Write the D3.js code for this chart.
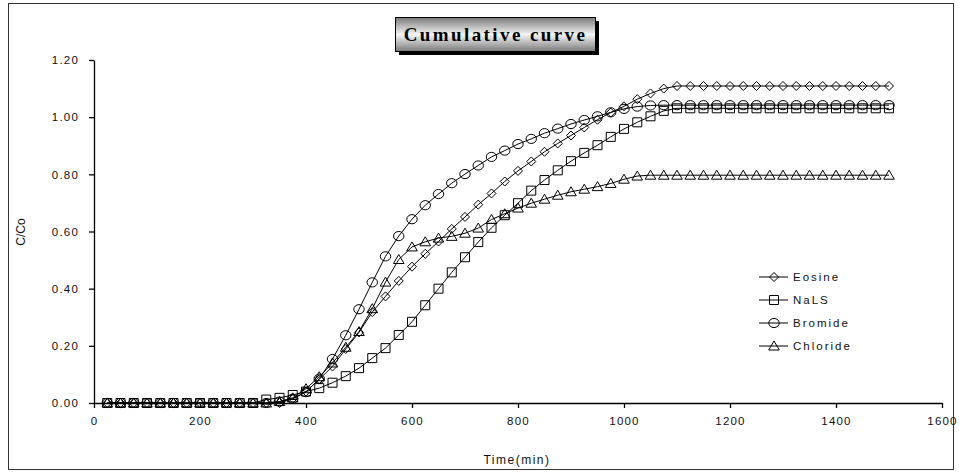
<!DOCTYPE html>
<html>
<head>
<meta charset="utf-8">
<script src="https://cdn.jsdelivr.net/npm/d3@7"></script>
<style>
  body { margin: 0; background: #fff; }
  text { font-family: Arial, "Liberation Sans", sans-serif; }
</style>
</head>
<body>
<div id="chart"></div>
<script>
// sampling times (min)
const times = [25, 50, 75, 100, 125, 150, 175, 200, 225, 250, 275, 300,
  325, 350, 375, 400, 425, 450, 475, 500, 525, 550, 575, 600, 625, 650, 675, 700,
  725, 750, 775, 800, 825, 850, 875, 900, 925, 950, 975, 1000, 1025, 1050, 1075, 1100,
  1125, 1150, 1175, 1200, 1225, 1250, 1275, 1300, 1325, 1350, 1375, 1400, 1425, 1450, 1475, 1500];

const eosine = [0, 0, 0, 0, 0, 0, 0, 0, 0, 0, 0, 0,
  0, 0, 0.015, 0.04, 0.083, 0.128, 0.189, 0.247, 0.318, 0.373, 0.427, 0.477, 0.522, 0.565, 0.609, 0.651,
  0.694, 0.733, 0.775, 0.812, 0.845, 0.879, 0.908, 0.936, 0.964, 0.991, 1.016, 1.038, 1.063, 1.083, 1.100, 1.109,
  1.109, 1.109, 1.109, 1.109, 1.109, 1.109, 1.109, 1.109, 1.109, 1.109, 1.109, 1.109, 1.109, 1.109, 1.109, 1.109];

const nals = [0, 0, 0, 0, 0, 0, 0, 0, 0, 0, 0, 0,
  0.012, 0.018, 0.028, 0.04, 0.052, 0.071, 0.094, 0.122, 0.157, 0.192, 0.238, 0.284, 0.342, 0.40, 0.457, 0.51,
  0.563, 0.613, 0.657, 0.699, 0.743, 0.78, 0.814, 0.846, 0.875, 0.902, 0.931, 0.959, 0.982, 1.003, 1.022, 1.031,
  1.031, 1.031, 1.031, 1.031, 1.031, 1.031, 1.031, 1.031, 1.031, 1.031, 1.031, 1.031, 1.031, 1.031, 1.031, 1.031];

const bromide = [0, 0, 0, 0, 0, 0, 0, 0, 0, 0, 0, 0,
  0, 0.005, 0.015, 0.038, 0.085, 0.154, 0.237, 0.328, 0.422, 0.513, 0.584, 0.643, 0.692, 0.731, 0.769, 0.801,
  0.831, 0.861, 0.883, 0.906, 0.924, 0.944, 0.96, 0.976, 0.99, 1.003, 1.017, 1.029, 1.037, 1.041, 1.042, 1.042,
  1.042, 1.042, 1.042, 1.042, 1.042, 1.042, 1.042, 1.042, 1.042, 1.042, 1.042, 1.042, 1.042, 1.042, 1.042, 1.042];

const chloride = [0, 0, 0, 0, 0, 0, 0, 0, 0, 0, 0, 0,
  0, 0.005, 0.018, 0.05, 0.092, 0.14, 0.195, 0.25, 0.33, 0.423, 0.502, 0.546, 0.564, 0.577, 0.583, 0.594,
  0.612, 0.642, 0.662, 0.682, 0.699, 0.713, 0.727, 0.739, 0.748, 0.757, 0.768, 0.783, 0.794, 0.797, 0.797, 0.797,
  0.797, 0.797, 0.797, 0.797, 0.797, 0.797, 0.797, 0.797, 0.797, 0.797, 0.797, 0.797, 0.797, 0.797, 0.797, 0.797];

const seriesNames = ["Eosine", "NaLS", "Bromide", "Chloride"];
const seriesValues = [eosine, nals, bromide, chloride];
const seriesShapes = ["diamond", "square", "circle", "triangle"];

const xTicks = [0, 200, 400, 600, 800, 1000, 1200, 1400, 1600];
const yTicks = [0, 0.2, 0.4, 0.6, 0.8, 1.0, 1.2];

const W = 959, H = 472;
const plot = { left: 94, right: 942, top: 60, bottom: 403 };

const svg = d3.select("#chart").append("svg")
    .attr("width", W)
    .attr("height", H);

// gradient for the title box
const grad = svg.append("defs").append("linearGradient")
    .attr("id", "titleGrad")
    .attr("x1", 0).attr("y1", 0).attr("x2", 0).attr("y2", 1);
grad.append("stop").attr("offset", "0%").attr("stop-color", "#7a7a7a");
grad.append("stop").attr("offset", "50%").attr("stop-color", "#f4f4f4");
grad.append("stop").attr("offset", "100%").attr("stop-color", "#7a7a7a");

// outer frame
svg.append("rect")
    .attr("x", 8.5).attr("y", 3.5)
    .attr("width", 945).attr("height", 466)
    .attr("fill", "#fff")
    .attr("stroke", "#333")
    .attr("stroke-width", 1);

const x = d3.scaleLinear().domain([0, 1600]).range([plot.left, plot.right]);
const y = d3.scaleLinear().domain([0, 1.2]).range([plot.bottom, plot.top]);

// axes
const xAxis = svg.append("g")
    .attr("transform", `translate(0,${plot.bottom})`)
    .call(d3.axisBottom(x).tickValues(xTicks).tickFormat(d3.format("d"))
        .tickSize(5).tickPadding(9).tickSizeOuter(0));
const yAxis = svg.append("g")
    .attr("transform", `translate(${plot.left},0)`)
    .call(d3.axisLeft(y).tickValues(yTicks).tickFormat(d3.format(".2f"))
        .tickSize(5).tickPadding(10).tickSizeOuter(0));

[xAxis, yAxis].forEach(g => {
    g.select(".domain").attr("stroke", "#000").attr("stroke-width", 1.3);
    g.selectAll(".tick line").attr("stroke", "#000").attr("stroke-width", 1.3);
    g.selectAll(".tick text")
        .attr("fill", "#111")
        .style("font-size", "11.5px")
        .style("letter-spacing", "1.2px")
        .style("font-family", "Arial, 'Liberation Sans', sans-serif");
});

// axis titles
svg.append("text")
    .attr("x", 517).attr("y", 464)
    .attr("text-anchor", "middle")
    .style("font-size", "12px")
    .style("letter-spacing", "1.5px")
    .attr("fill", "#111")
    .text("Time(min)");

svg.append("text")
    .attr("transform", "translate(25,232) rotate(-90)")
    .attr("text-anchor", "middle")
    .style("font-size", "12px")
    .attr("fill", "#111")
    .text("C/Co");

// marker shapes
function markerPath(shape) {
    switch (shape) {
        case "diamond": return "M0,-4.5L4.5,0L0,4.5L-4.5,0Z";
        case "square": return "M-4.5,-4.5H4.5V4.5H-4.5Z";
        case "circle": return "M-5.2,0A5.2,4.6 0 1,0 5.2,0A5.2,4.6 0 1,0 -5.2,0Z";
        case "triangle": return "M0,-5L5.3,4L-5.3,4Z";
    }
}

const line = d3.line()
    .x((d, i) => x(times[i]))
    .y(d => y(d));

seriesValues.forEach((vals, s) => {
    const g = svg.append("g");
    g.append("path")
        .datum(vals)
        .attr("d", line)
        .attr("fill", "none")
        .attr("stroke", "#000")
        .attr("stroke-width", 1);
    g.selectAll("path.mk")
        .data(vals)
      .enter().append("path")
        .attr("class", "mk")
        .attr("transform", (d, i) => `translate(${x(times[i])},${y(d)})`)
        .attr("d", markerPath(seriesShapes[s]))
        .attr("fill", "none")
        .attr("stroke", "#000")
        .attr("stroke-width", 1);
});

// legend
const legend = svg.append("g").attr("transform", "translate(759,277)");
seriesNames.forEach((name, i) => {
    const row = legend.append("g").attr("transform", `translate(0,${i * 23})`);
    row.append("line")
        .attr("x1", 0).attr("x2", 29)
        .attr("y1", 0).attr("y2", 0)
        .attr("stroke", "#000");
    row.append("path")
        .attr("transform", "translate(15,0)")
        .attr("d", markerPath(seriesShapes[i]))
        .attr("fill", "none")
        .attr("stroke", "#000");
    row.append("text")
        .attr("x", 34).attr("y", 4)
        .style("font-size", "11.5px")
        .style("letter-spacing", "2px")
        .attr("fill", "#111")
        .text(name);
});

// title box with shadow
svg.append("rect")
    .attr("x", 399).attr("y", 21)
    .attr("width", 200).attr("height", 34)
    .attr("fill", "#000");
svg.append("rect")
    .attr("x", 395.5).attr("y", 17.5)
    .attr("width", 200).attr("height", 34)
    .attr("fill", "url(#titleGrad)")
    .attr("stroke", "#000");
svg.append("text")
    .attr("x", 495.5).attr("y", 41)
    .attr("text-anchor", "middle")
    .style("font-family", "'Liberation Serif', 'Times New Roman', serif")
    .style("font-weight", "bold")
    .style("font-size", "19px")
    .style("letter-spacing", "2.4px")
    .attr("fill", "#000")
    .text("Cumulative curve");
</script>
</body>
</html>
